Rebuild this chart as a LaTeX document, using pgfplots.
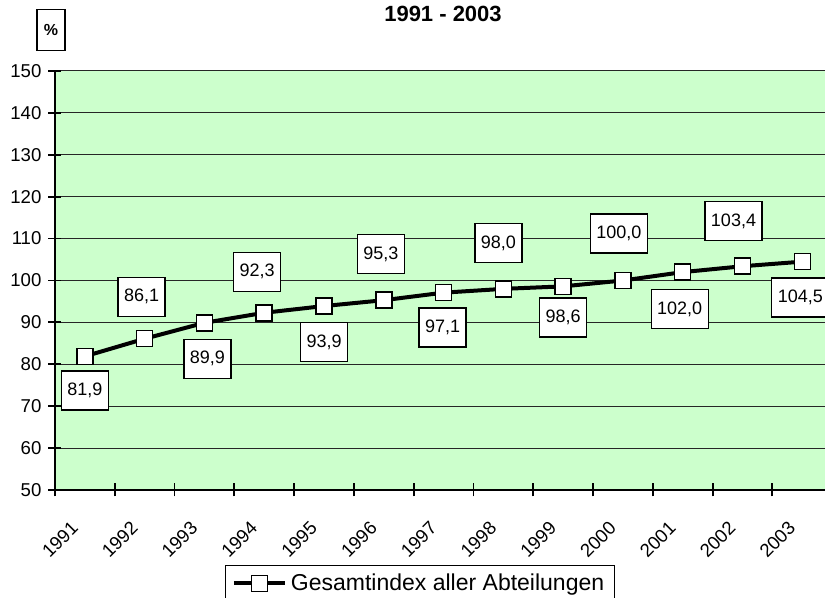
\documentclass[border=0pt]{standalone}
\usepackage{fontspec}
\setmainfont{Liberation Sans}
\usepackage{pgfplots}
\usepackage{pgfplotstable}
\pgfplotsset{compat=1.18}

\definecolor{plotbg}{HTML}{CCFFCC}

% x = category position, y = index, dx/dy = label offset (pt)
\pgfplotstableread{
x    y     dx    dy
0.5  81.9  0     -17
1.5  86.1  -1.5  21
2.5  89.9  1.5   -18
3.5  92.3  -3.5  20.5
4.5  93.9  0     -18
5.5  95.3  -1.5  23
6.5  97.1  -0.5  -17.5
7.5  98.0  -2.5  23
8.5  98.6  0     -15.5
9.5  100.0 -2    23.5
10.5 102.0 -1.5  -18.5
11.5 103.4 -4.5  22.5
12.5 104.5 -1    -18
}\gesamt

\begin{document}
\begin{tikzpicture}
\begin{axis}[
    at={(0,0)}, anchor=south west,
    scale only axis,
    width=385pt, height=209.5pt,
    xmin=0, xmax=12.88,
    ymin=50, ymax=150,
    xtick={0,...,12},
    xticklabels={1991,1992,1993,1994,1995,1996,1997,1998,1999,2000,2001,2002,2003},
    ytick={50,60,...,150},
    axis x line*=bottom,
    axis y line*=left,
    axis line style={-, line width=1pt, black},
    tick align=center,
    major tick length=6.5pt,
    tick style={line width=0.9pt, black},
    ymajorgrids,
    grid style={line width=0.5pt, black!85},
    axis background/.style={fill=plotbg},
    tick label style={font=\fontsize{9.3}{11}\selectfont},
    /pgf/number format/assume math mode=true,
    xticklabel style={xshift=2.5pt, yshift=-21.5pt, rotate=45, anchor=center},
    legend style={at={(0.474,-0.179)}, anchor=north, draw=black, line width=0.6pt,
        font=\fontsize{11.5}{13}\selectfont, inner ysep=2pt},
    legend image code/.code={\draw[mark repeat=2,mark phase=2,#1]
        plot coordinates {(0cm,0cm) (0.45cm,0cm) (0.9cm,0cm)};},
]
\addplot[black, line width=2pt, mark=square*, mark size=4pt,
    mark options={fill=white, draw=black, line width=0.75pt, solid},
    visualization depends on={\thisrow{dx} \as \dx},
    visualization depends on={\thisrow{dy} \as \dy},
    nodes near coords={\pgfmathprintnumber[fixed,fixed zerofill,precision=1,use comma]{\pgfplotspointmeta}},
    nodes near coords style={anchor=center, xshift=\dx pt, yshift=\dy pt,
        draw=black, fill=white, line width=0.7pt, font=\fontsize{9}{11}\selectfont,
        minimum height=19.5pt, inner xsep=3pt},
] table[x=x, y=y] {\gesamt};
\legend{Gesamtindex aller Abteilungen}
\end{axis}
\node[font=\fontsize{11}{13}\selectfont\bfseries] at (194pt,238pt) {1991 - 2003};
\node[draw=black, line width=0.6pt, minimum width=14pt, minimum height=20.5pt,
    inner sep=0pt, font=\fontsize{8}{9.6}\selectfont\bfseries] at (-2pt,230pt) {\%};
\pgfresetboundingbox
\path[use as bounding box] (-27.5pt,-54pt) rectangle (385pt,245pt);
\end{tikzpicture}
\end{document}
